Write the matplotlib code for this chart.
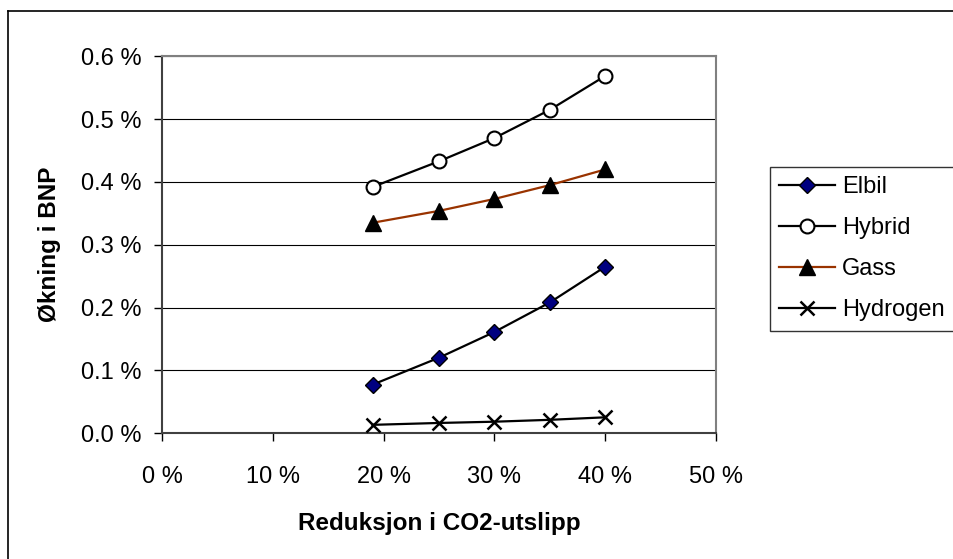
import numpy as np
import matplotlib
matplotlib.use("Agg")
import matplotlib.pyplot as plt
from matplotlib.ticker import FuncFormatter
from matplotlib.lines import Line2D

plt.rcParams['font.family'] = ['Liberation Sans', 'DejaVu Sans']

# Data, x = CO2 reduction in %, y = GDP increase in %
reduction = [19, 25, 30, 35, 40]
elbil = [0.077, 0.120, 0.161, 0.208, 0.265]
hybrid = [0.392, 0.433, 0.470, 0.515, 0.569]
gass = [0.335, 0.354, 0.373, 0.395, 0.420]
hydrogen = [0.013, 0.016, 0.018, 0.021, 0.025]

series_names = ['Elbil', 'Hybrid', 'Gass', 'Hydrogen']

fig = plt.figure(figsize=(9.54, 5.59), dpi=100)
ax = fig.add_axes([162/954, 1 - 433/559, (716-162)/954, (433-56.5)/559])

ax.plot(reduction, elbil, color='black', lw=1.6, marker='D', ms=8,
        mfc='#000080', mec='black', mew=1.0, label=series_names[0], zorder=3)
ax.plot(reduction, hybrid, color='black', lw=1.6, marker='o', ms=10,
        mfc='white', mec='black', mew=1.5, label=series_names[1], zorder=3)
ax.plot(reduction, gass, color='#993300', lw=1.6, marker='^', ms=11,
        mfc='black', mec='black', label=series_names[2], zorder=3)
ax.plot(reduction, hydrogen, color='black', lw=1.6, marker='x', ms=10,
        mew=1.8, label=series_names[3], zorder=3)

ax.set_xlim(0, 50)
ax.set_ylim(0, 0.6)
ax.set_xticks(np.arange(0, 51, 10))
ax.set_yticks(np.arange(0, 0.61, 0.1))
ax.xaxis.set_major_formatter(FuncFormatter(lambda v, p: f'{v:.0f} %'))
ax.yaxis.set_major_formatter(FuncFormatter(lambda v, p: f'{v:.1f} %'))

ax.grid(axis='y', color='black', lw=0.8)
ax.set_axisbelow(True)
for s in ['top', 'right']:
    ax.spines[s].set_color('#808080')
    ax.spines[s].set_linewidth(1.5)
for s in ['left', 'bottom']:
    ax.spines[s].set_color('#404040')
    ax.spines[s].set_linewidth(1.5)

ax.tick_params(axis='both', direction='out', length=6, width=1, colors='black',
               labelsize=17)
ax.tick_params(axis='y', pad=9)
ax.tick_params(axis='x', pad=18)

ax.set_xlabel('Reduksjon i CO2-utslipp', fontsize=17.5, fontweight='bold', labelpad=17)
ax.set_ylabel('Økning i BNP', fontsize=17.5, fontweight='bold', labelpad=14)

# legend box runs past the right edge of the picture, as in the original
leg = fig.legend(loc='upper left', bbox_to_anchor=(770/954, 1 - 167/559, 200/954, 0),
                 mode='expand', fontsize=17, frameon=True, fancybox=False,
                 edgecolor='black', handlelength=2.35, handletextpad=0.3,
                 borderpad=0.4, labelspacing=0.8, borderaxespad=0)
leg.get_frame().set_linewidth(1.0)

# outer chart border (only left/top visible in the crop)
fig.add_artist(Line2D([8/954, 8/954], [0, 1 - 11/559], transform=fig.transFigure,
                      color='black', lw=1.2))
fig.add_artist(Line2D([8/954, 1], [1 - 11/559, 1 - 11/559], transform=fig.transFigure,
                      color='black', lw=1.2))

fig.savefig('out.png', dpi=100)
